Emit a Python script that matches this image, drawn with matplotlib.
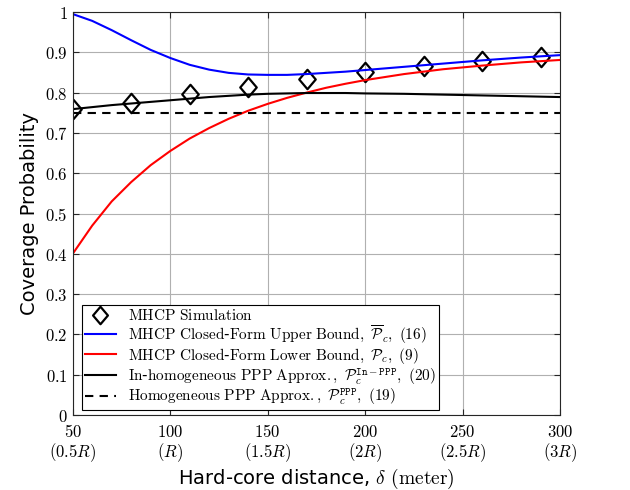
import numpy as np
import matplotlib
matplotlib.use("Agg")
import matplotlib.pyplot as plt
from matplotlib.path import Path

plt.rcParams['mathtext.fontset'] = 'cm'
plt.rcParams['font.family'] = 'DejaVu Sans'

# simulation points
sim_d = [50, 80, 110, 140, 170, 200, 230, 260, 290]
sim_p = [0.760, 0.775, 0.796, 0.815, 0.833, 0.852, 0.867, 0.879, 0.889]

# closed-form curves
d = [50, 60, 70, 80, 90, 100, 110, 120, 130, 140, 150, 160, 170, 180, 190,
     200, 220, 240, 260, 280, 300]
upper = [0.995, 0.978, 0.955, 0.930, 0.906, 0.886, 0.869, 0.857, 0.849, 0.845,
         0.844, 0.844, 0.846, 0.849, 0.852, 0.856, 0.864, 0.872, 0.880, 0.887, 0.893]
lower = [0.400, 0.470, 0.530, 0.578, 0.620, 0.655, 0.686, 0.712, 0.735, 0.755,
         0.772, 0.787, 0.800, 0.812, 0.822, 0.831, 0.846, 0.858, 0.867, 0.875, 0.881]
inhom = [0.759, 0.764, 0.769, 0.773, 0.777, 0.781, 0.785, 0.789, 0.792, 0.795,
         0.797, 0.798, 0.799, 0.799, 0.799, 0.798, 0.797, 0.795, 0.793, 0.791, 0.789]
hom = 0.75

xticks = [50, 100, 150, 200, 250, 300]
xlabels = [r'$50$' + '\n' + r'$(0.5R)$', r'$100$' + '\n' + r'$(R)$',
           r'$150$' + '\n' + r'$(1.5R)$', r'$200$' + '\n' + r'$(2R)$',
           r'$250$' + '\n' + r'$(2.5R)$', r'$300$' + '\n' + r'$(3R)$']
yticks = np.round(np.arange(0, 1.01, 0.1), 1)
ylabels = ['$0$'] + ['$%.1f$' % v for v in yticks[1:-1]] + ['$1$']

# matlab-style diamond (wider than mpl 'd')
diamond = Path([(0, 1), (0.85, 0), (0, -1), (-0.85, 0), (0, 1)],
               [Path.MOVETO, Path.LINETO, Path.LINETO, Path.LINETO, Path.CLOSEPOLY])

fig = plt.figure(figsize=(6.3, 4.9), dpi=100)
ax = fig.add_axes([0.1154, 0.153, 0.7735, 0.8225])

ax.plot(sim_d, sim_p, linestyle='none', marker=diamond, markersize=14,
        markerfacecolor='none', markeredgecolor='black', markeredgewidth=1.6,
        label=r'$\mathrm{MHCP\ Simulation}$')
ax.plot(d, upper, color='blue', lw=1.5,
        label=r'$\mathrm{MHCP\ Closed}$-$\mathrm{Form\ Upper\ Bound},\ \overline{\mathcal{P}}_c,\ (16)$')
ax.plot(d, lower, color='red', lw=1.5,
        label=r'$\mathrm{MHCP\ Closed}$-$\mathrm{Form\ Lower\ Bound},\ \mathcal{P}_c,\ (9)$')
ax.plot(d, inhom, color='black', lw=1.5,
        label=r'$\mathrm{In}$-$\mathrm{homogeneous\ PPP\ Approx.},\ \mathcal{P}_c^{\mathtt{In-PPP}},\ (20)$')
ax.plot([d[0], d[-1]], [hom, hom], color='black', lw=1.5, linestyle=(0, (4, 3)),
        label=r'$\mathrm{Homogeneous\ PPP\ Approx.},\ \mathcal{P}_c^{\mathtt{PPP}},\ (19)$')

ax.set_xlim(50, 300)
ax.set_ylim(0, 1)
ax.set_xticks(xticks)
ax.set_xticklabels(xlabels, fontsize=12, linespacing=1.0)
ax.set_yticks(yticks)
ax.set_yticklabels(ylabels, fontsize=12)
ax.tick_params(direction='in', top=True, right=True, length=4, color='#262626')
ax.tick_params(axis='x', pad=6)
ax.grid(True, color='#b0b0b0', lw=0.8)
for s in ax.spines.values():
    s.set_color('#262626')
    s.set_linewidth(0.8)

ax.set_ylabel('Coverage Probability', fontsize=14)
ax.set_xlabel(r'Hard-core distance, $\delta$ $\mathrm{(meter)}$', fontsize=14, labelpad=2)

leg = ax.legend(loc='lower left', fontsize=11, frameon=True, fancybox=False,
                edgecolor='black', framealpha=1, borderaxespad=0.3,
                bbox_to_anchor=(0.01, 0.0),
                handlelength=2.0, labelspacing=0.0, borderpad=0.2, markerscale=0.9)
leg.get_frame().set_linewidth(0.8)

fig.savefig('out.png', dpi=100)
